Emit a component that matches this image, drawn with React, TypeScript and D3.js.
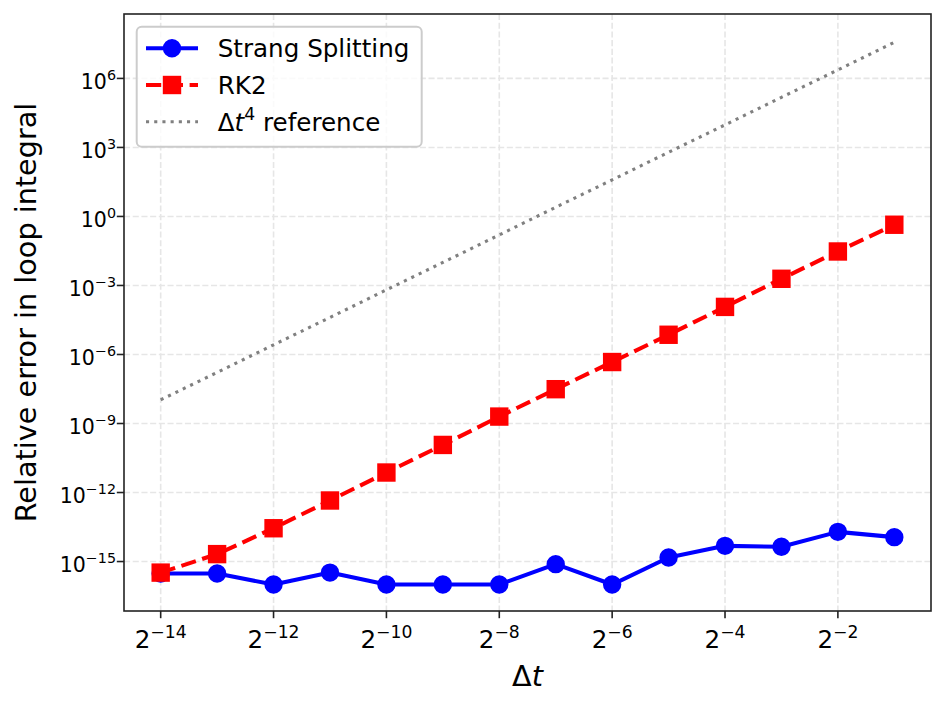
import * as d3 from 'd3';

// step sizes as powers of two
const dtExponents = [-14, -13, -12, -11, -10, -9, -8, -7, -6, -5, -4, -3, -2, -1];

const strangErrors = [
  3.0e-16, 3.0e-16, 1.0e-16, 3.3e-16, 1.0e-16, 1.0e-16, 1.0e-16,
  7.7e-16, 1.0e-16, 1.5e-15, 4.8e-15, 4.4e-15, 1.95e-14, 1.15e-14,
];

const rk2Errors = [
  3.3e-16, 2.1e-15, 2.8e-14, 4.5e-13, 7.4e-12, 1.17e-10, 2.0e-9,
  3.1e-8, 4.7e-7, 7.2e-6, 1.17e-4, 1.95e-3, 3.0e-2, 0.436,
];

const referenceValues = [
  1.07e-8, 1.66e-7, 2.63e-6, 4.07e-5, 6.46e-4, 1.0e-2, 0.158,
  2.51, 38.9, 617, 9550, 1.51e5, 2.34e6, 3.72e7,
];

const xTickExponents = [-14, -12, -10, -8, -6, -4, -2];
const yTickExponents = [-15, -12, -9, -6, -3, 0, 3, 6];

const W = 945;
const H = 705;
const plot = { left: 124, right: 931, top: 14, bottom: 611 };
const FONT = 'DejaVu Sans, sans-serif';

const fmtExp = (e: number) => (e < 0 ? '\u2212' + Math.abs(e) : String(e));

export default function App() {
  const x = d3.scaleLog().base(2)
    .domain([Math.pow(2, -14.65), Math.pow(2, -0.35)])
    .range([plot.left, plot.right]);
  const y = d3.scaleLog()
    .domain([Math.pow(10, -17.15), Math.pow(10, 8.8)])
    .range([plot.bottom, plot.top]);

  const dts = dtExponents.map(e => Math.pow(2, e));
  const line = d3.line<number>()
    .x((_, i) => x(dts[i]))
    .y(d => y(d));

  const gridColor = '#e6e6e6';
  const spine = '#222';

  return (
    <svg width={W} height={H} style={{ position: 'absolute', left: 0, top: 0, background: '#fff' }}
      fontFamily={FONT}>
      <defs>
        <clipPath id="plotclip">
          <rect x={plot.left} y={plot.top} width={plot.right - plot.left} height={plot.bottom - plot.top} />
        </clipPath>
      </defs>
      <rect width={W} height={H} fill="#fff" />

      {/* grid */}
      <g stroke={gridColor} strokeWidth={1.6} strokeDasharray="6.1,2.6">
        {xTickExponents.map(e => (
          <line key={'gx' + e} x1={x(Math.pow(2, e))} x2={x(Math.pow(2, e))} y1={plot.top} y2={plot.bottom} />
        ))}
        {yTickExponents.map(e => (
          <line key={'gy' + e} y1={y(Math.pow(10, e))} y2={y(Math.pow(10, e))} x1={plot.left} x2={plot.right} />
        ))}
      </g>

      <g clipPath="url(#plotclip)">
        {/* reference line */}
        <path d={line(referenceValues) || ''} fill="none" stroke="#808080" strokeWidth={3.1}
          strokeDasharray="3.1,5.1" />
        {/* Strang */}
        <path d={line(strangErrors) || ''} fill="none" stroke="#0000ff" strokeWidth={4.1}
          strokeLinejoin="round" />
        {strangErrors.map((v, i) => (
          <circle key={'s' + i} cx={x(dts[i])} cy={y(v)} r={8.2} fill="#0000ff" stroke="#0000ff" strokeWidth={2} />
        ))}
        {/* RK2 */}
        <path d={line(rk2Errors) || ''} fill="none" stroke="#ff0000" strokeWidth={4.1}
          strokeDasharray="15.2,6.6" />
        {rk2Errors.map((v, i) => (
          <rect key={'r' + i} x={x(dts[i]) - 8.2} y={y(v) - 8.2} width={16.4} height={16.4}
            fill="#ff0000" stroke="#ff0000" strokeWidth={2} />
        ))}
      </g>

      {/* spines */}
      <rect x={plot.left} y={plot.top} width={plot.right - plot.left} height={plot.bottom - plot.top}
        fill="none" stroke={spine} strokeWidth={1.6} />

      {/* x ticks */}
      {xTickExponents.map(e => {
        const px = x(Math.pow(2, e));
        return (
          <g key={'xt' + e}>
            <line x1={px} x2={px} y1={plot.bottom} y2={plot.bottom + 7.2} stroke={spine} strokeWidth={1.6} />
            <text x={px} y={648} textAnchor="middle" fontSize={24.6} fill="#000">
              <tspan>2</tspan>
              <tspan dy={-10.3} fontSize={17.2}>{fmtExp(e)}</tspan>
            </text>
          </g>
        );
      })}

      {/* y ticks */}
      {yTickExponents.map(e => {
        const py = y(Math.pow(10, e));
        return (
          <g key={'yt' + e}>
            <line x1={plot.left - 7.2} x2={plot.left} y1={py} y2={py} stroke={spine} strokeWidth={1.6} />
            <text x={116} y={py + 10.3} textAnchor="end" fontSize={20.5} fill="#000">
              <tspan>10</tspan>
              <tspan dy={-8.8} fontSize={14.3}>{fmtExp(e)}</tspan>
            </text>
          </g>
        );
      })}

      {/* axis labels */}
      <text x={(plot.left + plot.right) / 2} y={686} textAnchor="middle" fontSize={28.7} fill="#000">
        <tspan>Δ</tspan><tspan fontStyle="italic">t</tspan>
      </text>
      <text transform={`translate(36,${(plot.top + plot.bottom) / 2}) rotate(-90)`} textAnchor="middle"
        fontSize={28.7} fill="#000">Relative error in loop integral</text>

      {/* legend */}
      <g>
        <rect x={136.7} y={26.7} width={285} height={120} rx={5} ry={5}
          fill="#fff" fillOpacity={0.8} stroke="#cccccc" strokeWidth={2} />
        <line x1={146} x2={198} y1={48.3} y2={48.3} stroke="#0000ff" strokeWidth={4.1} />
        <circle cx={172} cy={48.3} r={8.2} fill="#0000ff" stroke="#0000ff" strokeWidth={2} />
        <text x={217.7} y={57.3} fontSize={24.6} fill="#000">Strang Splitting</text>

        <line x1={146} x2={198} y1={85} y2={85} stroke="#ff0000" strokeWidth={4.1} strokeDasharray="15.2,6.6" />
        <rect x={172 - 8.2} y={85 - 8.2} width={16.4} height={16.4} fill="#ff0000" stroke="#ff0000" strokeWidth={2} />
        <text x={217.7} y={94} fontSize={24.6} fill="#000">RK2</text>

        <line x1={146} x2={198} y1={121.7} y2={121.7} stroke="#808080" strokeWidth={3.1} strokeDasharray="3.1,5.1" />
        <text x={217.7} y={130.7} fontSize={24.6} fill="#000">
          <tspan>Δ</tspan><tspan fontStyle="italic">t</tspan>
          <tspan dy={-10.3} fontSize={17.2}>4</tspan>
          <tspan dy={10.3}> reference</tspan>
        </text>
      </g>
    </svg>
  );
}
